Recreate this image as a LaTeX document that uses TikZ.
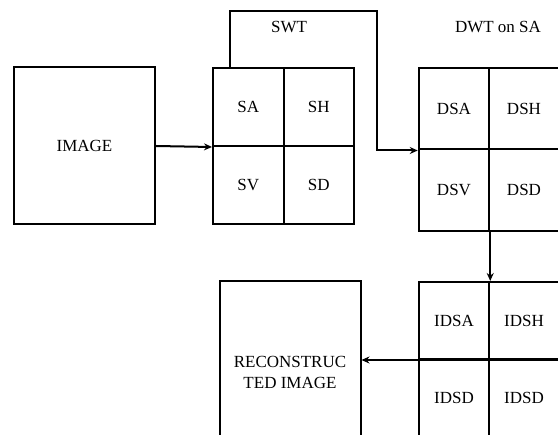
\documentclass[tikz,border=0pt]{standalone}
\usepackage{fontspec}
\setmainfont{Liberation Serif}
\usetikzlibrary{arrows.meta,calc}

\begin{document}
\begin{tikzpicture}[x=1pt,y=-1pt,line width=2pt,
    font=\fontsize{17}{21}\selectfont,
    box/.style={draw,inner sep=0pt,minimum width=141pt,align=center},
    cell/.style={draw,inner sep=0pt,minimum width=70.5pt},
    arr/.style={-{Stealth[length=8pt,width=7pt]}}]
  \useasboundingbox (0,0) rectangle (558,435);
  \clip (0,0) rectangle (558,435);
  \node[box,minimum height=157pt] (img) at (84.5,146) {IMAGE};
  \node[box,minimum height=182pt] (rec) at (290,372) {RECONSTRUC\\TED IMAGE};
  % sub-bands: SWT, DWT on SA, inverse
  \foreach \n/\t/\x/\y/\h in {sa/SA/248.25/107/78,sh/SH/318.75/107/78,
      sv/SV/248.25/185/78,sd/SD/318.75/185/78,
      dsa/DSA/454/108.75/81.5,dsh/DSH/524/108.75/81.5,
      dsv/DSV/454/190.25/81.5,dsd/DSD/524/190.25/81.5,
      idsa/IDSA/454/320.5/77,idsh/IDSH/524/320.5/77,
      idsv/IDSD/454/397.5/77,idsd/IDSD/524/397.5/77}
    \node[cell,minimum height=\h pt] (\n) at (\x,\y) {\t};
  \node (swt) at (289,27) {SWT};
  \node (dwt) at (498,27) {DWT on SA};
  \coordinate (loop) at (377,11);
  \draw[arr] (img.east) -- (sa.south west);
  \draw[arr] ([xshift=18pt]sa.north west) |- (loop) |- (dsa.south west);
  \draw[arr] (dsv.south east) -- (idsa.north east);
  \draw[arr] (idsh.south east) -- (idsh.south east -| rec.east);
\end{tikzpicture}
\end{document}
